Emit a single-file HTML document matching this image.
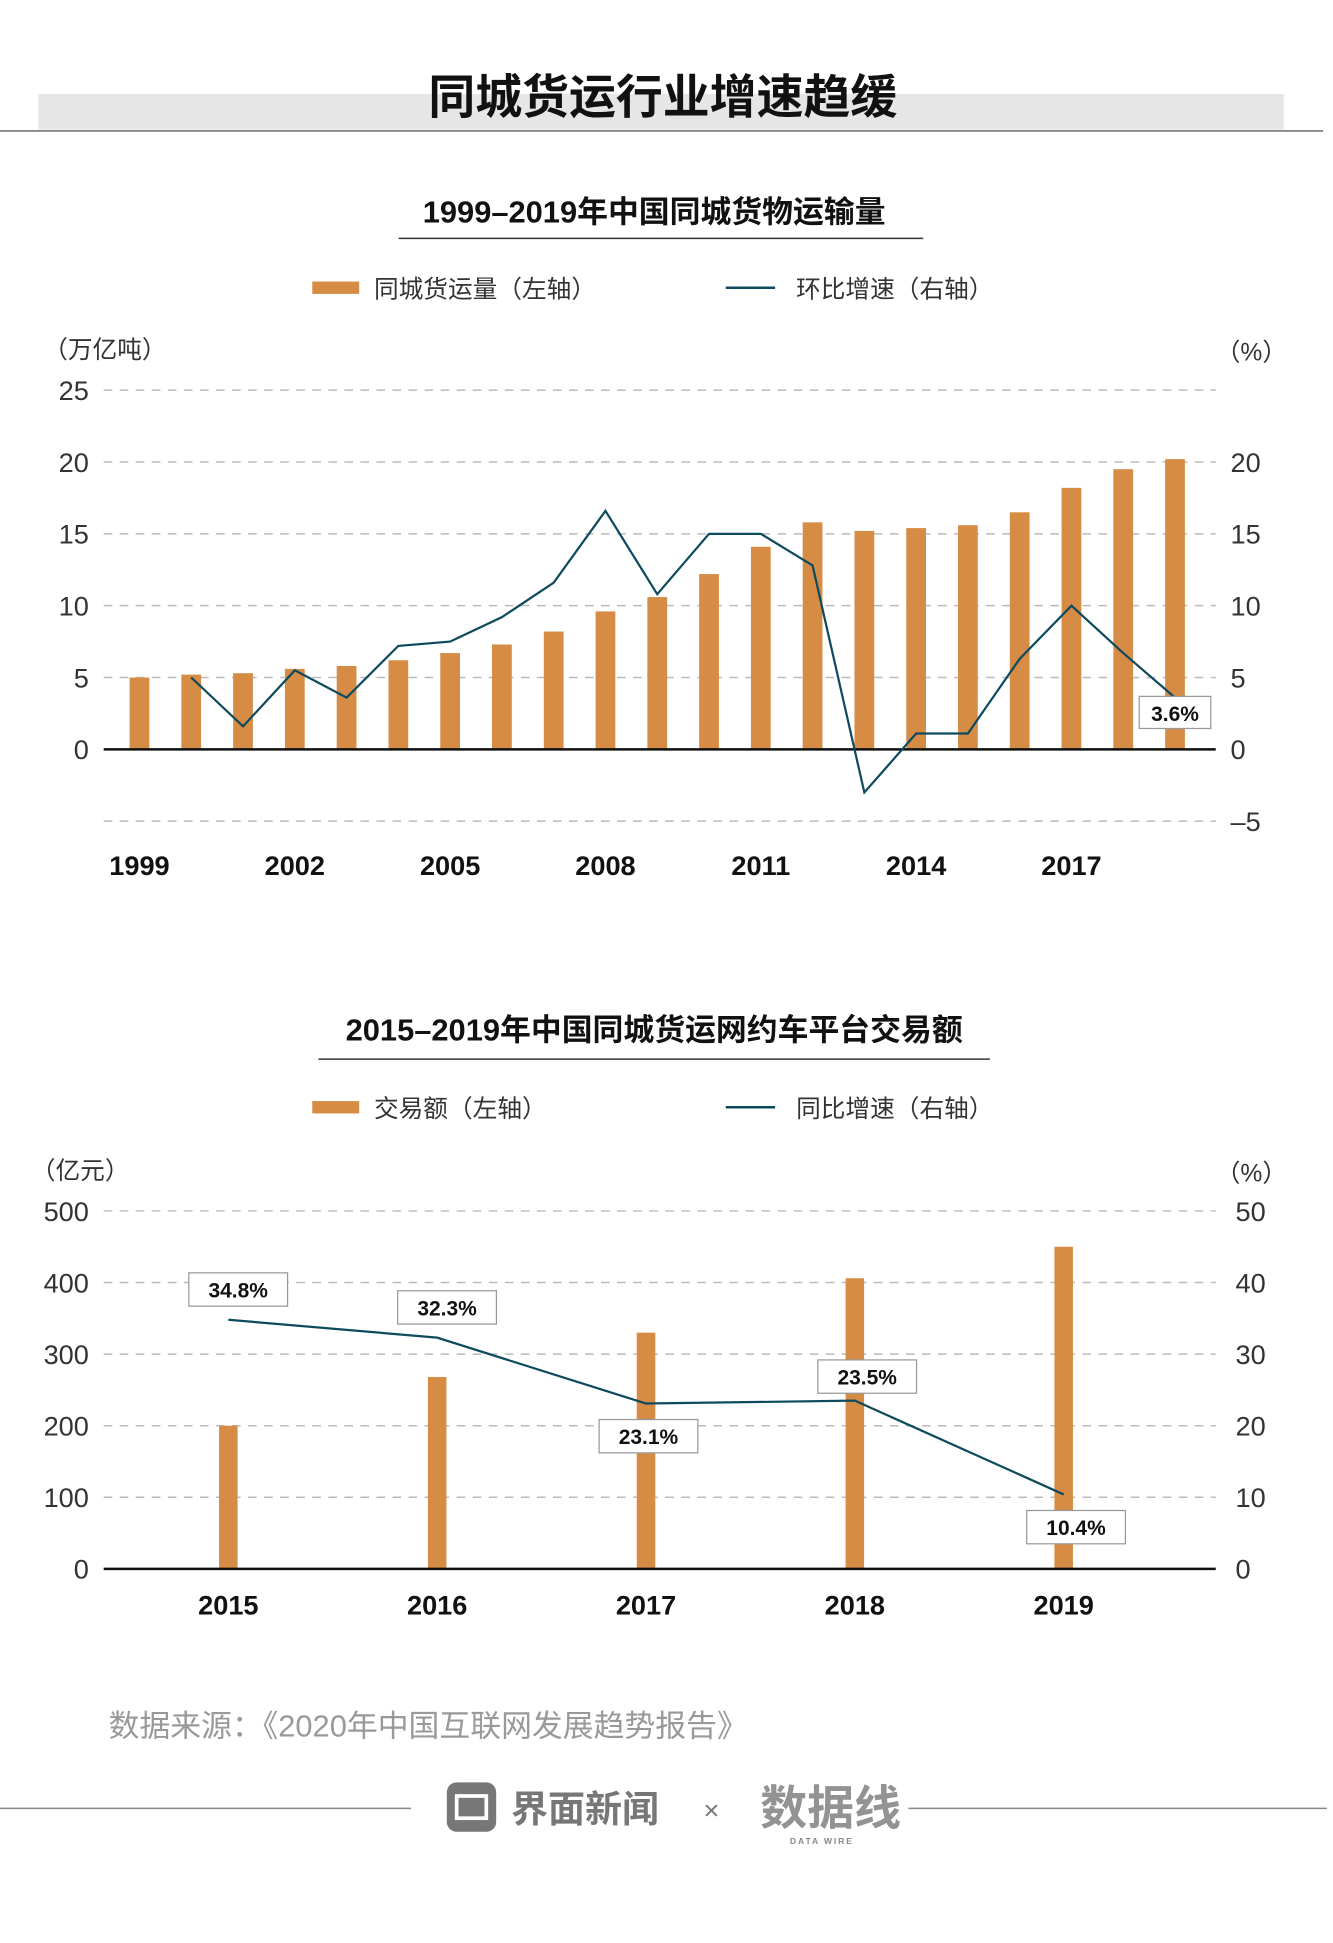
<!DOCTYPE html>
<html><head><meta charset="utf-8">
<style>
html,body{margin:0;padding:0;background:#fff;}
svg{display:block;font-family:"Liberation Sans","Noto Sans CJK SC",sans-serif;}
</style></head>
<body>
<svg id="root" width="1333" height="1943" viewBox="0 0 1080 1574" xmlns="http://www.w3.org/2000/svg">
<rect x="0" y="0" width="1080" height="1574" fill="#fff"/>
<rect x="31" y="76" width="1009" height="29" fill="#e6e6e6"/>
<line x1="0" y1="106" x2="1072" y2="106" stroke="#888" stroke-width="1.5"/>
<text x="537" y="92" text-anchor="middle" font-size="38" font-weight="bold" fill="#111">同城货运行业增速趋缓</text>

<text x="530" y="180" text-anchor="middle" font-size="25" font-weight="bold" fill="#111">1999–2019年中国同城货物运输量</text>
<line x1="323" y1="193" x2="748" y2="193" stroke="#333" stroke-width="1.2"/>
<g>
<rect x="253" y="228" width="38" height="10" fill="#d68c45"/>
<text x="303" y="241" font-size="20" fill="#333">同城货运量（左轴）</text>
<line x1="588" y1="233" x2="628" y2="233" stroke="#0e4a5e" stroke-width="2"/>
<text x="645" y="241" font-size="20" fill="#333">环比增速（右轴）</text>
</g>
<text x="35" y="290" font-size="20" fill="#333">（万亿吨）</text>
<text x="985" y="292" font-size="20" fill="#333">（%）</text>
<g id="c1"></g>

<text x="530" y="843" text-anchor="middle" font-size="25" font-weight="bold" fill="#111">2015–2019年中国同城货运网约车平台交易额</text>
<line x1="258" y1="858" x2="802" y2="858" stroke="#333" stroke-width="1.2"/>
<g>
<rect x="253" y="892" width="38" height="10" fill="#d68c45"/>
<text x="303" y="905" font-size="20" fill="#333">交易额（左轴）</text>
<line x1="588" y1="897" x2="628" y2="897" stroke="#0e4a5e" stroke-width="2"/>
<text x="645" y="905" font-size="20" fill="#333">同比增速（右轴）</text>
</g>
<text x="25" y="955" font-size="20" fill="#333">（亿元）</text>
<text x="985" y="957" font-size="20" fill="#333">（%）</text>
<g id="c2"></g>

<text x="88" y="1407" font-size="25" fill="#999">数据来源：《2020年中国互联网发展趋势报告》</text>
<line x1="0" y1="1465" x2="333" y2="1465" stroke="#888" stroke-width="1.2"/>
<line x1="736" y1="1465" x2="1075" y2="1465" stroke="#888" stroke-width="1.2"/>
<g>
<rect x="362" y="1444" width="40" height="40" rx="8" fill="#777"/>
<rect x="370" y="1455" width="24" height="18" fill="none" stroke="#fff" stroke-width="3"/>
<text x="414" y="1476" font-size="30" font-weight="bold" fill="#777">界面新闻</text>
</g>
<text x="570" y="1474" font-size="22" fill="#777">×</text>
<g>
<text x="616" y="1478" font-size="38" font-weight="bold" fill="#888" opacity="0.9">数据线</text>
<text x="640" y="1494" font-size="7" font-weight="bold" fill="#888" letter-spacing="1.5">DATA WIRE</text>
</g>
</svg>
<script>
// Chart 1 data
const years1 = [1999,2000,2001,2002,2003,2004,2005,2006,2007,2008,2009,2010,2011,2012,2013,2014,2015,2016,2017,2018,2019];
const volume1 = [5.0,5.2,5.3,5.6,5.8,6.2,6.7,7.3,8.2,9.6,10.6,12.2,14.1,15.8,15.2,15.4,15.6,16.5,18.2,19.5,20.2];
const growth1 = [null,5.0,1.6,5.5,3.6,7.2,7.5,9.2,11.6,16.6,10.8,15.0,15.0,12.8,-3.0,1.1,1.1,6.3,10.0,6.7,3.6];
const leftTicks1 = [25,20,15,10,5,0];
const rightTicks1 = [20,15,10,5,0,-5];
const xLabels1 = [1999,2002,2005,2008,2011,2014,2017];
// Chart 2 data
const years2 = [2015,2016,2017,2018,2019];
const amount2 = [200,268,330,406,450];
const yoy2 = [34.8,32.3,23.1,23.5,10.4];
const yoyLabels2 = ["34.8%","32.3%","23.1%","23.5%","10.4%"];
const leftTicks2 = [500,400,300,200,100,0];
const rightTicks2 = [50,40,30,20,10,0];

const NS = "http://www.w3.org/2000/svg";
function mk(parent, tag, attrs){const e=document.createElementNS(NS,tag);for(const k in attrs)e.setAttribute(k,attrs[k]);parent.appendChild(e);return e;}

(function(){
  const g = document.getElementById('c1');
  const x0=84,x1=985, zeroY=607, pu=11.64;
  const yL=v=>zeroY-v*pu, yR=v=>zeroY-v*pu;
  const bx=i=>113+i*(952-113)/(years1.length-1);
  [25,20,15,10,5,-5].forEach(v=>{
    const l=mk(g,'line',{x1:x0,x2:x1,y1:yL(v),y2:yL(v),stroke:'#bbb','stroke-width':1.2,'stroke-dasharray':'7,6'});
    
    
  });
  leftTicks1.forEach(v=>{
    const t=mk(g,'text',{x:72,y:yL(v)+8,'text-anchor':'end','font-size':22,fill:'#333'});t.textContent=v;
    
    
  });
  rightTicks1.forEach(v=>{
    const t=mk(g,'text',{x:997,y:yR(v)+8,'font-size':22,fill:'#333'});t.textContent=(v<0?'–'+(-v):v);
    
    
  });
  volume1.forEach((v,i)=>{
    const r=mk(g,'rect',{x:bx(i)-8,y:yL(v),width:16,height:zeroY-yL(v),fill:'#d68c45'});
    
    
  });
  const ax=mk(g,'line',{x1:x0,x2:x1,y1:zeroY,y2:zeroY,stroke:'#111','stroke-width':2});
  
  
  let pts=[];growth1.forEach((v,i)=>{if(v!==null)pts.push(bx(i)+','+yR(v));});
  const pl=mk(g,'polyline',{points:pts.join(' '),fill:'none',stroke:'#0e4a5e','stroke-width':1.8});
  
  
  xLabels1.forEach(y=>{
    const i=years1.indexOf(y);
    const t=mk(g,'text',{x:bx(i),y:709,'text-anchor':'middle','font-size':22,'font-weight':'bold',fill:'#111'});t.textContent=y;
    
    
  });
  const li=growth1.length-1;
  const lx=bx(li), ly=yR(growth1[li]);
  const bg=mk(g,'rect',{x:lx-29,y:ly-1,width:58,height:26,fill:'#fff',stroke:'#999','stroke-width':1});
  
  
  const lt=mk(g,'text',{x:lx,y:ly+19,'text-anchor':'middle','font-size':17,'font-weight':'bold',fill:'#111'});lt.textContent=growth1[li]+'%';
  
  
})();

(function(){
  const g = document.getElementById('c2');
  const x0=84,x1=985, zeroY=1271, pu=0.58, pr=5.8;
  const yL=v=>zeroY-v*pu, yR=v=>zeroY-v*pr;
  const bx=i=>185+i*169.2;
  [500,400,300,200,100].forEach(v=>{
    const l=mk(g,'line',{x1:x0,x2:x1,y1:yL(v),y2:yL(v),stroke:'#bbb','stroke-width':1.2,'stroke-dasharray':'7,6'});
    
    
  });
  leftTicks2.forEach(v=>{
    const t=mk(g,'text',{x:72,y:yL(v)+8,'text-anchor':'end','font-size':22,fill:'#333'});t.textContent=v;
    
    
  });
  rightTicks2.forEach(v=>{
    const t=mk(g,'text',{x:1001,y:yR(v)+8,'font-size':22,fill:'#333'});t.textContent=v;
    
    
  });
  amount2.forEach((v,i)=>{
    const r=mk(g,'rect',{x:bx(i)-7.5,y:yL(v),width:15,height:zeroY-yL(v),fill:'#d68c45'});
    
    
  });
  const ax=mk(g,'line',{x1:x0,x2:x1,y1:zeroY,y2:zeroY,stroke:'#111','stroke-width':2});
  
  
  const pl=mk(g,'polyline',{points:yoy2.map((v,i)=>bx(i)+','+yR(v)).join(' '),fill:'none',stroke:'#0e4a5e','stroke-width':1.8});
  
  
  years2.forEach((y,i)=>{
    const t=mk(g,'text',{x:bx(i),y:1308,'text-anchor':'middle','font-size':22,'font-weight':'bold',fill:'#111'});t.textContent=y;
    
    
  });
  // label boxes: above for first two and 4th, below for 3rd and 5th
  const above=[true,true,false,true,false];
  const dx=[8,8,2,10,10];
  yoy2.forEach((v,i)=>{
    const cx=bx(i)+dx[i], py=yR(v);
    const top= above[i] ? py-38-(i==3?-5:0) : py+13;
    const bg=mk(g,'rect',{x:cx-40,y:top,width:80,height:27,fill:'#fff',stroke:'#999','stroke-width':1});
    
    
    const t=mk(g,'text',{x:cx,y:top+20,'text-anchor':'middle','font-size':17,'font-weight':'bold',fill:'#111'});t.textContent=yoyLabels2[i];
    
    
  });
})();
</script>
</body></html>
